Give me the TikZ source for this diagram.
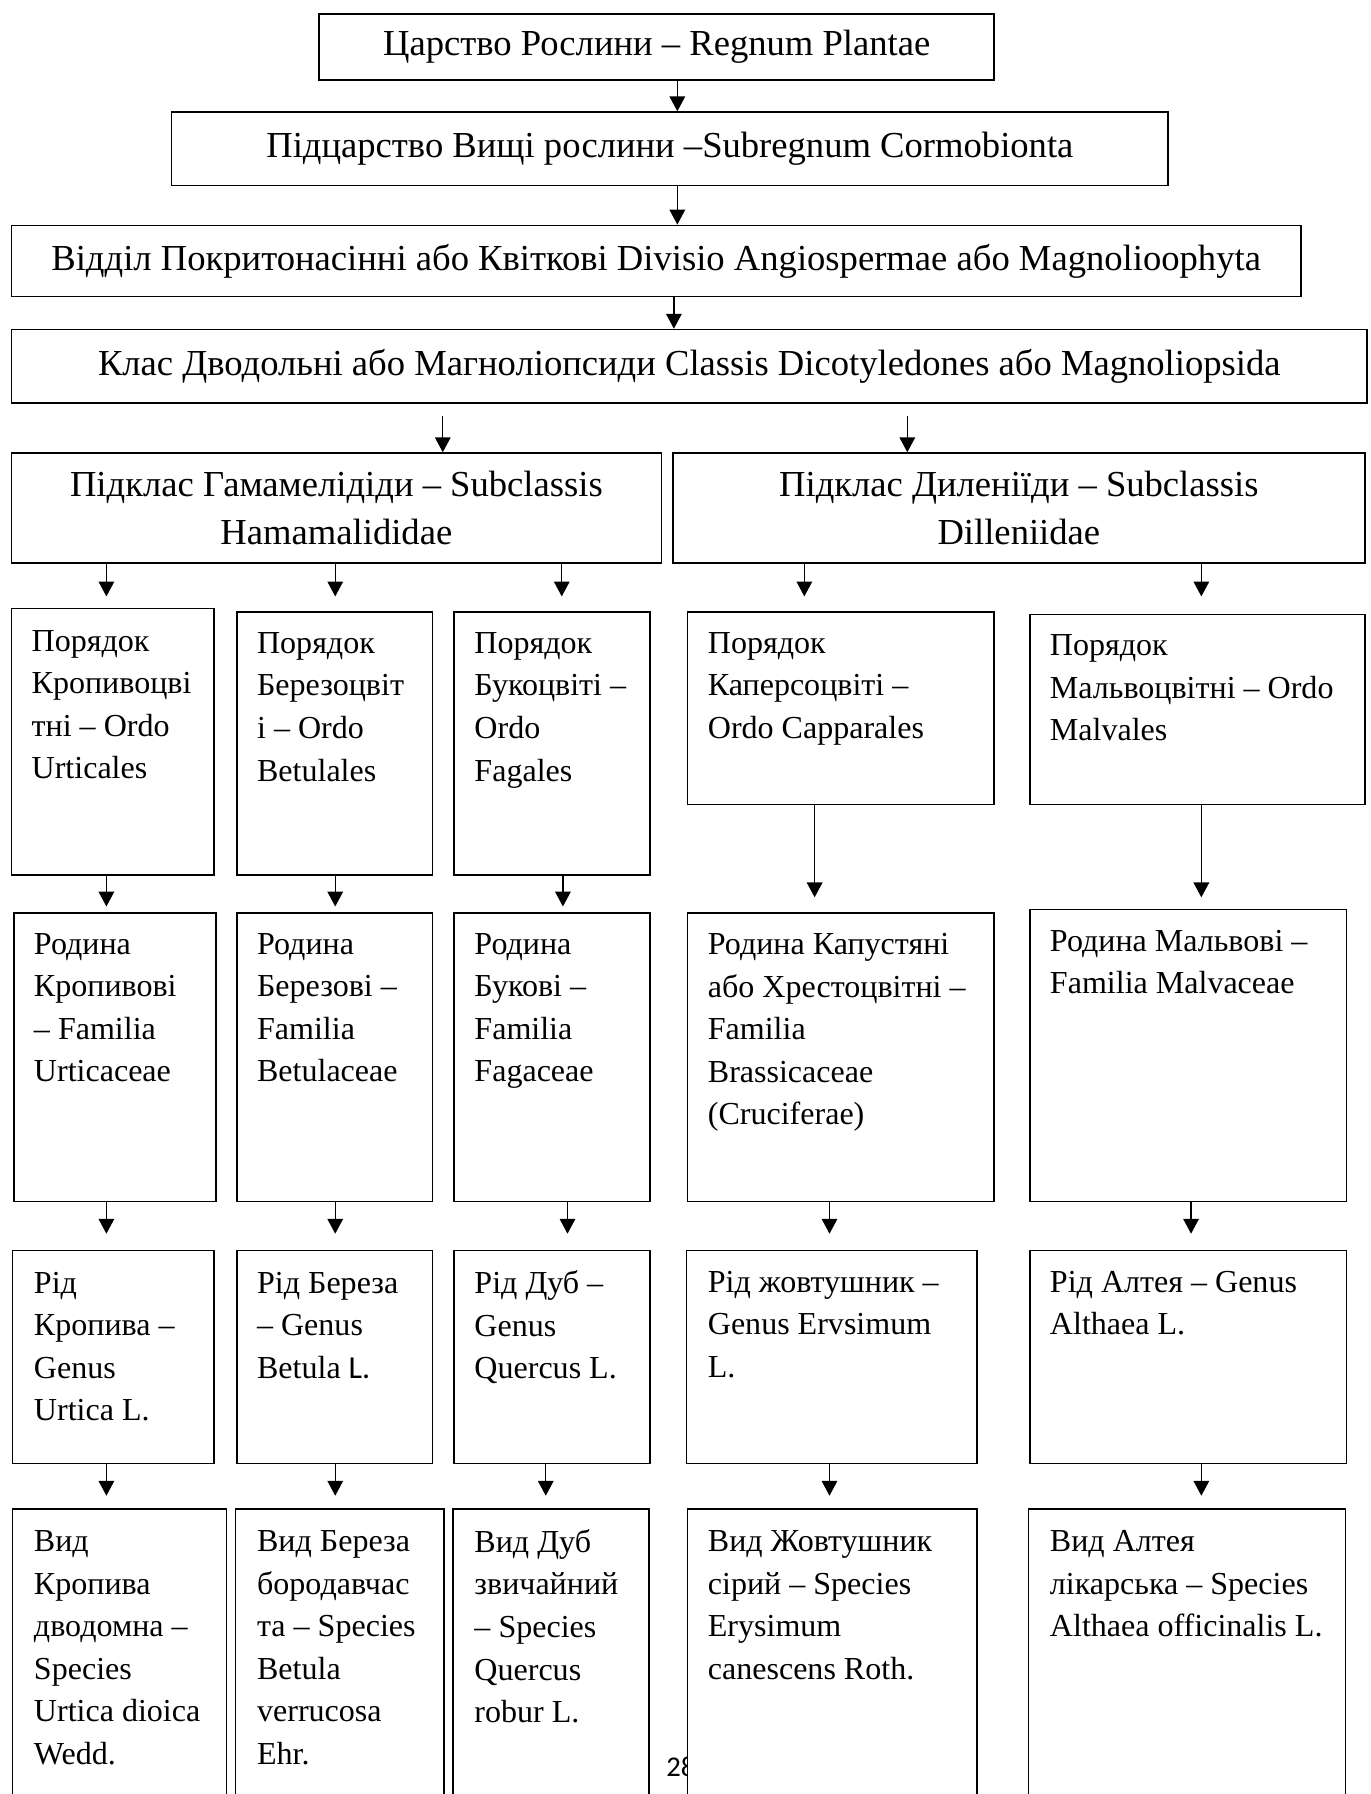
\documentclass[tikz,border=0pt]{standalone}
\usepackage{fontspec}
\setmainfont{Liberation Serif}
\newfontfamily\calfont{Carlito}
\usetikzlibrary{arrows.meta, fit}

\tikzset{
  box/.style={draw, line width=0.7pt, fill=white, inner sep=0pt},
  bigtext/.style={inner sep=0pt, align=center, font=\fontsize{16}{21}\selectfont},
  cell/.style={anchor=north west, inner sep=0pt, align=left,
    font=\fontsize{14}{18.6}\selectfont, execute at begin node=\strut},
  arr/.style={line width=0.6pt, -{Triangle[length=6.5pt, width=6.8pt]}},
}

\begin{document}
\begin{tikzpicture}[x=0.5pt, y=-0.5pt]
\useasboundingbox (0,0) rectangle (1198,1568);
\clip (0,0) rectangle (1198,1568);

% page number, partly hidden behind the boxes
\node[anchor=base west, inner sep=0pt, font=\calfont\fontsize{12.5}{15}\selectfont] (page) at (582,1553) {28};

% upper ranks
\node[box, fit={(279,12) (869,70)}] (kingdom) {};
\node[box, fit={(150,98) (1021,162)}] (subkingdom) {};
\node[box, fit={(10,197) (1137,259)}] (division) {};
\node[box, fit={(10,288) (1195,352)}] (class) {};
\node[box, fit={(10,396) (578,492)}] (hamam) {};
\node[box, fit={(588,396) (1193,492)}] (dillen) {};

\node[bigtext] (kingdom-t) at (kingdom.center) {Царство Рослини – Regnum Plantae};
\node[bigtext] (subkingdom-t) at (subkingdom.center) {Підцарство Вищі рослини –Subregnum Cormobionta};
\node[bigtext] (division-t) at (division.center) {Відділ Покритонасінні або Квіткові Divisio Angiospermae або Magnolioophyta};
\node[bigtext] (class-t) at (class.center) {Клас Дводольні або Магноліопсиди Classis Dicotyledones або Magnoliopsida};
\node[bigtext] (hamam-t) at (hamam.center) {Підклас Гамамелідіди – Subclassis\\Hamamalididae};
\node[bigtext] (dillen-t) at (dillen.center) {Підклас Диленіїди – Subclassis\\Dilleniidae};

% frames of orders, families, genera, species
\foreach \n/\xa/\ya/\xb/\yb in {
    o1/10/532/187/765, o2/207/535/378/765, o3/397/535/568/765, o4/601/535/869/703, o5/900/537/1193/703,
    f1/12/798/189/1050, f2/207/798/378/1050, f3/397/798/568/1050, f4/601/798/869/1050, f5/900/795/1177/1050,
    g1/11/1093/187/1279, g2/207/1093/378/1279, g3/397/1093/568/1279, g4/600/1093/854/1279, g5/900/1093/1177/1279,
    s1/11/1319/198/1640, s2/206/1319/388/1640, s3/396/1319/567/1640, s4/601/1319/854/1640, s5/899/1319/1176/1640}
  \node[box, fit={(\xa,\ya) (\xb,\yb)}] (\n) {};

% texts
\node[cell] (o1t) at ([shift={(18,19)}]o1.north west) {Порядок\\Кропивоцві\\тні – Ordo\\Urticales};
\node[cell] (o2t) at ([shift={(18,18)}]o2.north west) {Порядок\\Березоцвіт\\і – Ordo\\Betulales};
\node[cell] (o3t) at ([shift={(18,18)}]o3.north west) {Порядок\\Букоцвіті –\\Ordo\\Fagales};
\node[cell] (o4t) at ([shift={(18,18)}]o4.north west) {Порядок\\Каперсоцвіті –\\Ordo Capparales};
\node[cell] (o5t) at ([shift={(18,18)}]o5.north west) {Порядок\\Мальвоцвітні – Ordo\\Malvales};

\node[cell] (f1t) at ([shift={(18,18)}]f1.north west) {Родина\\Кропивові\\– Familia\\Urticaceae};
\node[cell] (f2t) at ([shift={(18,18)}]f2.north west) {Родина\\Березові –\\Familia\\Betulaceae};
\node[cell] (f3t) at ([shift={(18,18)}]f3.north west) {Родина\\Букові –\\Familia\\Fagaceae};
\node[cell] (f4t) at ([shift={(18,18)}]f4.north west) {Родина Капустяні\\або Хрестоцвітні –\\Familia\\Brassicaceae\\(Cruciferae)};
\node[cell] (f5t) at ([shift={(18,18)}]f5.north west) {Родина Мальвові –\\Familia Malvaceae};

\node[cell] (g1t) at ([shift={(19,19)}]g1.north west) {Рід\\Кропива –\\Genus\\Urtica L.};
\node[cell] (g2t) at ([shift={(18,19)}]g2.north west) {Рід Береза\\– Genus\\Betula {\calfont L.}};
\node[cell] (g3t) at ([shift={(18,18)}]g3.north west) {Рід Дуб –\\Genus\\Quercus L.};
\node[cell] (g4t) at ([shift={(19,18)}]g4.north west) {Рід жовтушник –\\Genus Ervsimum\\L.};
\node[cell] (g5t) at ([shift={(18,18)}]g5.north west) {Рід Алтея – Genus\\Althaea L.};

\node[cell] (s1t) at ([shift={(19,19)}]s1.north west) {Вид\\Кропива\\дводомна –\\Species\\Urtica dioica\\Wedd.};
\node[cell] (s2t) at ([shift={(19,19)}]s2.north west) {Вид Береза\\бородавчас\\та – Species\\Betula\\verrucosa\\Ehr.};
\node[cell] (s3t) at ([shift={(19,18)}]s3.north west) {Вид Дуб\\звичайний\\– Species\\Quercus\\robur L.};
\node[cell] (s4t) at ([shift={(18,19)}]s4.north west) {Вид Жовтушник\\сірий – Species\\Erysimum\\canescens Roth.};
\node[cell] (s5t) at ([shift={(19,19)}]s5.north west) {Вид Алтея\\лікарська – Species\\Althaea officinalis L.};

% arrows between the upper ranks
\coordinate (in1) at (387,364);
\coordinate (in2) at (793,364);
\draw[arr] (kingdom.south -| 592,0) -- (subkingdom.north -| 592,0);
\draw[arr] (subkingdom.south -| 592,0) -- (division.north -| 592,0);
\draw[arr] (division.south -| 589,0) -- (class.north -| 589,0);
\draw[arr] (in1) -- (hamam.north -| in1);
\draw[arr] (in2) -- (dillen.north -| in2);

% arrows down the columns
\foreach \a/\b/\x/\g in {
    hamam/o1/93/10, hamam/o2/293/13, hamam/o3/491/13, dillen/o4/703/13, dillen/o5/1050/15,
    o1/f1/93/5, o2/f2/293/5, o3/f3/492/5, o4/f4/712/13, o5/f5/1050/10,
    f1/g1/93/14, f2/g2/293/14, f3/g3/496/14, f4/g4/725/14, f5/g5/1041/14,
    g1/s1/93/11, g2/s2/293/11, g3/s3/477/11, g4/s4/725/11, g5/s5/1050/11}
  \draw[arr, shorten >=\g*0.5pt] (\a.south -| \x,0) -- (\b.north -| \x,0);
\end{tikzpicture}
\end{document}
